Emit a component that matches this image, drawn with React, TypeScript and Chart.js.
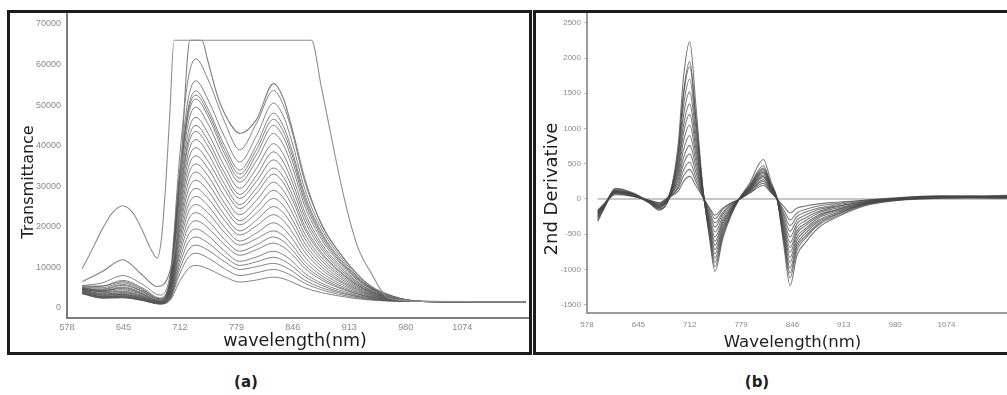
import React, { useEffect, useRef } from 'react';
import { Chart, registerables } from 'chart.js';

Chart.register(...registerables);

// ---------- shared axis ticks ----------
const X_TICK_VALUES = [578, 645, 712, 779, 846, 913, 980, 1047];
const X_TICK_LABELS = ['578', '645', '712', '779', '846', '913', '980', '1074'];
const Y_TICKS_A = [0, 10000, 20000, 30000, 40000, 50000, 60000, 70000];
const Y_TICKS_B = [-1500, -1000, -500, 0, 500, 1000, 1500, 2000, 2500];

// ---------- text ----------
const TITLE_Y_A = 'Transmittance';
const TITLE_X_A = 'wavelength(nm)';
const TITLE_Y_B = '2nd Derivative';
const TITLE_X_B = 'Wavelength(nm)';
const PANEL_A = '(a)';
const PANEL_B = '(b)';

// ---------- panel (a): transmittance spectra ----------
const WL_S1 = [596, 608, 620, 632, 644, 656, 667, 678, 685, 690, 695, 700, 705, 780, 868, 880, 907, 923, 939, 959, 1000, 1122];
const A_S1 = [9700, 14500, 19500, 23500, 25200, 23500, 19300, 14300, 12300, 17000, 30000, 48000, 66000, 66000, 66000, 54200, 27000, 15000, 8600, 2500, 1600, 1500];

const WL_S2 = [596, 620, 644, 667, 685, 700, 710, 716, 721, 724, 738, 745, 757, 770, 783, 803, 823, 835, 846, 860, 880, 900, 930, 960, 1000, 1122];
const A_S2 = [6500, 9000, 11900, 8200, 5300, 9000, 22000, 45000, 62000, 66000, 66000, 61000, 52000, 46000, 43000, 46500, 55300, 51500, 43500, 32000, 20500, 14000, 6800, 3000, 1700, 1500];

const WL_A = [596, 620, 644, 668, 688, 700, 712, 722, 731, 745, 765, 783, 803, 823, 835, 846, 860, 880, 900, 930, 960, 1000, 1122];
const A_C03 = [5500, 6200, 8000, 5800, 3200, 7900, 38100, 56700, 61400, 56500, 45900, 39000, 45600, 53600, 49900, 42700, 31200, 20800, 14000, 6700, 3300, 1600, 1500];
const A_C04 = [5200, 5400, 6800, 4900, 2500, 6800, 34600, 51700, 56000, 51500, 42200, 36000, 42500, 50500, 47100, 40200, 29400, 19600, 13300, 6400, 3200, 1600, 1500];
const A_C05 = [5000, 5000, 6200, 4400, 2300, 6400, 33000, 49400, 53500, 49200, 40000, 34000, 40300, 48000, 44700, 38200, 28000, 18700, 12700, 6200, 3100, 1600, 1500];
const A_C06 = [4800, 4700, 5800, 4100, 2000, 6000, 32300, 48500, 52500, 48300, 39000, 33000, 39100, 46500, 43400, 37100, 27200, 18200, 12300, 6000, 3100, 1600, 1500];
const A_C07 = [5400, 5400, 6500, 4600, 2200, 6100, 31800, 47600, 51500, 47400, 38000, 32000, 37900, 45000, 42000, 35900, 26300, 17600, 11900, 5900, 3000, 1600, 1500];
const A_C08 = [4600, 4300, 5200, 3700, 1800, 5600, 30400, 45700, 49500, 45500, 36700, 31000, 36400, 43000, 40100, 34300, 25200, 16900, 11500, 5700, 3000, 1600, 1500];
const A_C09 = [4500, 4500, 5600, 4000, 2000, 5600, 29000, 43400, 47000, 43200, 34900, 29500, 34500, 40500, 37800, 32300, 23700, 15900, 10900, 5400, 2900, 1600, 1500];
const A_C10 = [5000, 4300, 4800, 3400, 1700, 5200, 27700, 41500, 45000, 41400, 33300, 28000, 32700, 38500, 35900, 30700, 22600, 15200, 10400, 5200, 2800, 1600, 1500];
const A_C11 = [4400, 4100, 5000, 3500, 1600, 5000, 26700, 40200, 43500, 40000, 32100, 27000, 31300, 36500, 34100, 29200, 21500, 14500, 9900, 5000, 2700, 1600, 1500];
const A_C12 = [4700, 4000, 4500, 3200, 1500, 4700, 25500, 38300, 41500, 38200, 30500, 25500, 29600, 34500, 32200, 27600, 20300, 13700, 9400, 4800, 2700, 1600, 1500];
const A_C13 = [4300, 3700, 4200, 3000, 1600, 4600, 24300, 36500, 39500, 36300, 29200, 24500, 28300, 33000, 30800, 26400, 19500, 13200, 9100, 4700, 2600, 1600, 1500];
const A_C14 = [4900, 3900, 4000, 2800, 1400, 4300, 23100, 34600, 37500, 34500, 27500, 23000, 26600, 31000, 28900, 24800, 18300, 12400, 8600, 4500, 2500, 1600, 1500];
const A_C15 = [4200, 3400, 3800, 2800, 1500, 4200, 21900, 32800, 35500, 32700, 25800, 21500, 24900, 29000, 27100, 23200, 17200, 11700, 8100, 4300, 2500, 1600, 1500];
const A_C16 = [4600, 3500, 3600, 2600, 1300, 3900, 20600, 30900, 33500, 30800, 24500, 20500, 23400, 27000, 25200, 21600, 16000, 10900, 7600, 4100, 2400, 1600, 1500];
const A_C17 = [4000, 3100, 3400, 2500, 1400, 3800, 19500, 29100, 31500, 29000, 22900, 19000, 21700, 25000, 23400, 20100, 14900, 10200, 7100, 3900, 2300, 1600, 1500];
const A_C18 = [4400, 3200, 3200, 2300, 1200, 3500, 18200, 27200, 29500, 27100, 21600, 18000, 20300, 23000, 21500, 18500, 13800, 9500, 6700, 3700, 2300, 1600, 1500];
const A_C19 = [3800, 2800, 3000, 2200, 1300, 3400, 17000, 25400, 27500, 25300, 19900, 16500, 18500, 21000, 19600, 16900, 12600, 8700, 6200, 3500, 2200, 1600, 1500];
const A_C20 = [4200, 3200, 3300, 2400, 1200, 3100, 15800, 23600, 25500, 23500, 18600, 15500, 17100, 19000, 17800, 15300, 11500, 8000, 5700, 3300, 2100, 1600, 1500];
const A_C21 = [3700, 2700, 2800, 2000, 1100, 2900, 14500, 21700, 23500, 21600, 16900, 14000, 15600, 17500, 16400, 14100, 10600, 7400, 5300, 3100, 2100, 1600, 1500];
const A_C22 = [4000, 2900, 3000, 2200, 1200, 2800, 13400, 19900, 21500, 19800, 15600, 13000, 14400, 16000, 15000, 13000, 9800, 6900, 5000, 3000, 2000, 1600, 1500];
const A_C23 = [3600, 2500, 2600, 1900, 1000, 2500, 12100, 18000, 19500, 17900, 14000, 11500, 12600, 14000, 13100, 11400, 8600, 6100, 4500, 2800, 1900, 1600, 1500];
const A_C24 = [3900, 2800, 2900, 2100, 1100, 2400, 10900, 16200, 17500, 16100, 12700, 10500, 11400, 12500, 11700, 10200, 7800, 5600, 4100, 2600, 1900, 1600, 1500];
const A_C25 = [3500, 2400, 2500, 1800, 1000, 2200, 9700, 14300, 15500, 14300, 11400, 9500, 10200, 11000, 10300, 9000, 6900, 5000, 3800, 2500, 1800, 1600, 1500];
const A_C26 = [3800, 2700, 2700, 2000, 1100, 2100, 8500, 12500, 13500, 12400, 9700, 8000, 8700, 9500, 8900, 7800, 6100, 4500, 3400, 2300, 1800, 1600, 1500];
const A_C27 = [3600, 2500, 2600, 1900, 1000, 1800, 6700, 9700, 10500, 9700, 7700, 6400, 6900, 7600, 7200, 6300, 5000, 3800, 3000, 2100, 1700, 1600, 1500];

const A_BUNDLE = [A_C03, A_C04, A_C05, A_C06, A_C07, A_C08, A_C09, A_C10, A_C11, A_C12, A_C13, A_C14, A_C15,
  A_C16, A_C17, A_C18, A_C19, A_C20, A_C21, A_C22, A_C23, A_C24, A_C25, A_C26, A_C27];

// ---------- panel (b): 2nd derivative spectra ----------
const WL_B = [592, 600, 615, 637, 659, 672, 686, 697, 704, 712, 720, 729, 738, 745, 755, 765, 776, 790, 808, 818, 826, 835, 843, 852, 863, 880, 900, 940, 985, 1040, 1126];
const B_01 = [-320, -140, 140, 80, -60, -160, 60, 780, 1740, 2230, 1340, 180, -570, -1030, -570, -260, -10, 220, 560, 250, 0, -680, -1230, -800, -620, -410, -280, -100, -20, 20, 30];
const B_02 = [-280, -130, 120, 70, -50, -140, 40, 680, 1520, 1950, 1170, 160, -530, -960, -530, -240, -10, 190, 470, 210, 0, -620, -1120, -730, -560, -370, -260, -90, -10, 30, 40];
const B_03 = [-300, -140, 150, 90, -40, -120, 80, 660, 1470, 1880, 1130, 150, -500, -900, -500, -230, -10, 180, 440, 200, 0, -580, -1050, -680, -530, -350, -240, -80, 0, 20, 10];
const B_04 = [-250, -110, 110, 70, -50, -150, 30, 600, 1330, 1700, 1020, 140, -460, -840, -460, -210, -10, 170, 420, 190, 0, -540, -980, -640, -490, -320, -230, -80, -20, 10, 20];
const B_05 = [-220, -100, 130, 80, -35, -100, 70, 530, 1190, 1520, 910, 120, -430, -780, -430, -200, -10, 160, 400, 180, 0, -500, -900, -590, -450, -300, -210, -70, 10, 40, 30];
const B_06 = [-260, -120, 90, 50, -45, -130, 50, 470, 1050, 1350, 810, 110, -400, -720, -400, -180, -10, 150, 380, 170, 0, -460, -830, -540, -420, -270, -190, -70, -10, 20, 40];
const B_07 = [-200, -90, 120, 70, -30, -90, 20, 420, 940, 1200, 720, 100, -360, -660, -360, -170, -10, 140, 360, 160, 0, -420, -760, -490, -380, -250, -170, -60, 10, 30, 20];
const B_08 = [-240, -110, 100, 60, -40, -110, 60, 370, 820, 1050, 630, 80, -330, -600, -330, -150, -10, 140, 340, 150, 0, -380, -690, -450, -350, -230, -160, -55, -10, 10, 30];
const B_09 = [-180, -80, 80, 50, -25, -70, 40, 315, 700, 900, 540, 70, -300, -540, -300, -140, -10, 130, 320, 140, 0, -340, -620, -400, -310, -200, -140, -50, 0, 30, 50];
const B_10 = [-220, -100, 110, 70, -40, -120, 30, 270, 590, 760, 460, 60, -260, -470, -260, -120, -10, 120, 300, 140, 0, -300, -540, -350, -270, -180, -120, -40, -10, 20, 10];
const B_11 = [-170, -80, 70, 40, -20, -60, 50, 220, 500, 640, 380, 50, -220, -400, -220, -100, -10, 110, 270, 120, 0, -250, -460, -300, -230, -150, -110, -40, 10, 40, 30];
const B_12 = [-200, -90, 90, 50, -30, -90, 20, 180, 410, 520, 310, 40, -190, -340, -190, -85, -10, 100, 250, 110, 0, -210, -380, -250, -190, -130, -90, -30, 0, 20, 40];
const B_13 = [-160, -70, 60, 40, -20, -50, 40, 150, 330, 420, 250, 30, -150, -280, -150, -70, -10, 90, 220, 100, 0, -165, -300, -200, -150, -100, -70, -20, 10, 30, 20];
const B_14 = [-190, -90, 100, 60, -30, -80, 30, 110, 250, 320, 190, 30, -130, -230, -130, -60, -10, 80, 190, 90, 0, -110, -200, -130, -100, -70, -50, -20, 20, 40, 30];

const B_BUNDLE = [B_01, B_02, B_03, B_04, B_05, B_06, B_07, B_08, B_09, B_10, B_11, B_12, B_13, B_14];
const ZERO_X = [592, 1126];
const ZERO_Y = [0, 0];

// ---------- helpers ----------
const toXY = (xs: number[], ys: number[]) => xs.map((x, i) => ({ x, y: ys[i] }));
const TICK_FONT = { family: '"Liberation Sans", Arial, sans-serif', size: 9 };
const TITLE_FONT = '"DejaVu Sans", Verdana, sans-serif';

type PanelCfg = {
  datasets: any[];
  xMin: number; xMax: number; yMin: number; yMax: number;
  yTicks: number[];
  yAxisWidth: number; xAxisHeight: number;
  padTop: number; padRight: number;
  xTickPad: number; yTickPad: number; yTickLen: number;
  axisColor: string; tickSize: number;
};

function buildChart(canvas: HTMLCanvasElement, c: PanelCfg) {
  return new Chart(canvas, {
    type: 'line',
    data: { datasets: c.datasets },
    options: {
      animation: false,
      responsive: false,
      maintainAspectRatio: false,
      events: [],
      layout: { padding: { left: 0, right: c.padRight, top: c.padTop, bottom: 0 } },
      plugins: { legend: { display: false }, tooltip: { enabled: false } },
      elements: { point: { radius: 0 }, line: { borderWidth: 1, cubicInterpolationMode: 'monotone' } },
      scales: {
        x: {
          type: 'linear',
          min: c.xMin,
          max: c.xMax,
          afterBuildTicks: (s: any) => { s.ticks = X_TICK_VALUES.map((v) => ({ value: v })); },
          afterFit: (s: any) => { s.height = c.xAxisHeight; },
          grid: { display: true, drawOnChartArea: false, drawTicks: false, color: 'rgba(0,0,0,0)' },
          border: { display: true, color: c.axisColor, width: 2 },
          ticks: {
            padding: c.xTickPad, maxRotation: 0, autoSkip: false, color: '#8a8a8a',
            font: { ...TICK_FONT, size: c.tickSize },
            callback: (v: any) => { const i = X_TICK_VALUES.indexOf(Number(v)); return i >= 0 ? X_TICK_LABELS[i] : ''; },
          },
        },
        y: {
          type: 'linear',
          min: c.yMin,
          max: c.yMax,
          afterBuildTicks: (s: any) => { s.ticks = c.yTicks.map((v) => ({ value: v })); },
          afterFit: (s: any) => { s.width = c.yAxisWidth; s.paddingTop = 0; s.paddingBottom = 0; },
          grid: { display: true, drawOnChartArea: false, drawTicks: c.yTickLen > 0, tickLength: c.yTickLen, color: '#b5b5b5' },
          border: { display: true, color: c.axisColor, width: 2 },
          ticks: {
            padding: c.yTickPad, color: '#8a8a8a',
            font: { ...TICK_FONT, size: c.tickSize },
            callback: (v: any) => String(v),
          },
        },
      },
    } as any,
  });
}

const labelStyle = (x: number, y: number, size: number, rotate = false, bold = false): React.CSSProperties => ({
  position: 'absolute', left: x, top: y,
  transform: `translate(-50%, -50%)${rotate ? ' rotate(-90deg)' : ''}`,
  fontFamily: TITLE_FONT, fontSize: size, lineHeight: 1, whiteSpace: 'nowrap',
  color: '#1e1e1e', fontWeight: bold ? 'bold' : 'normal',
});

export default function App() {
  const refA = useRef<HTMLCanvasElement>(null);
  const refB = useRef<HTMLCanvasElement>(null);

  useEffect(() => {
    const lineA = 'rgba(85,85,85,0.72)';
    const dsA: any[] = [
      { data: toXY(WL_S1, A_S1), borderColor: '#8e8e8e', borderWidth: 1.1 },
      { data: toXY(WL_S2, A_S2), borderColor: '#808080', borderWidth: 1.1 },
      ...A_BUNDLE.map((arr) => ({ data: toXY(WL_A, arr), borderColor: lineA, borderWidth: 1 })),
    ];
    const chartA = buildChart(refA.current!, {
      datasets: dsA,
      xMin: 578, xMax: 1125, yMin: -2465, yMax: 72465,
      yTicks: Y_TICKS_A,
      yAxisWidth: 57, xAxisHeight: 34, padTop: 2, padRight: 1,
      xTickPad: 4, yTickPad: 6, yTickLen: 0,
      axisColor: '#7c7c7c', tickSize: 9,
    });

    const lineB = 'rgba(70,70,70,0.72)';
    const dsB: any[] = [
      ...B_BUNDLE.map((arr) => ({ data: toXY(WL_B, arr), borderColor: lineB, borderWidth: 1.1 })),
      { data: toXY(ZERO_X, ZERO_Y), borderColor: '#b4b4b4', borderWidth: 1.5, cubicInterpolationMode: 'default', tension: 0 },
    ];
    const chartB = buildChart(refB.current!, {
      datasets: dsB,
      xMin: 578, xMax: 1126, yMin: -1620, yMax: 2640,
      yTicks: Y_TICKS_B,
      yAxisWidth: 51, xAxisHeight: 39, padTop: 1, padRight: 0,
      xTickPad: 7, yTickPad: 3, yTickLen: 3,
      axisColor: '#9a9a9a', tickSize: 8,
    });

    return () => { chartA.destroy(); chartB.destroy(); };
  }, []);

  return (
    <div style={{ position: 'absolute', left: 0, top: 0, width: 1007, height: 395, overflow: 'hidden', background: '#fff' }}>
      <canvas ref={refA} width={519} height={340} style={{ position: 'absolute', left: 10, top: 12, width: 519, height: 340 }} />
      <canvas ref={refB} width={471} height={340} style={{ position: 'absolute', left: 536, top: 12, width: 471, height: 340 }} />
      <div style={{ position: 'absolute', left: 7, top: 10, width: 525, height: 345, border: '3px solid #1c1c1c', boxSizing: 'border-box' }} />
      <div style={{ position: 'absolute', left: 533, top: 10, width: 480, height: 345, border: '3px solid #1c1c1c', boxSizing: 'border-box' }} />
      <div style={labelStyle(27.5, 182, 16, true)}>{TITLE_Y_A}</div>
      <div style={labelStyle(295, 341, 17.5)}>{TITLE_X_A}</div>
      <div style={labelStyle(551, 189, 18, true)}>{TITLE_Y_B}</div>
      <div style={labelStyle(792.5, 342, 16.5)}>{TITLE_X_B}</div>
      <div style={labelStyle(246, 382, 15, false, true)}>{PANEL_A}</div>
      <div style={labelStyle(757, 382, 15, false, true)}>{PANEL_B}</div>
    </div>
  );
}
